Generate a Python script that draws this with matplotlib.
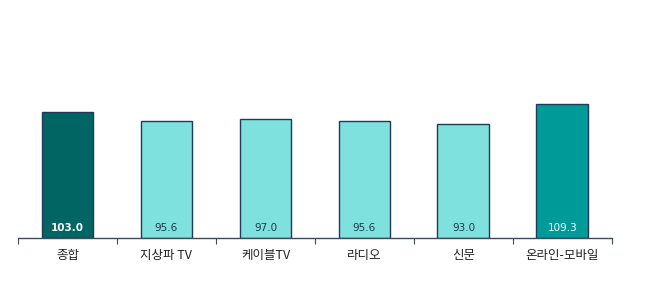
import numpy as np
import matplotlib.pyplot as plt

plt.rcParams['font.family'] = ['Noto Sans CJK KR', 'DejaVu Sans']

categories = ['종합', '지상파 TV', '케이블TV', '라디오', '신문', '온라인-모바일']
values = [103.0, 95.6, 97.0, 95.6, 93.0, 109.3]
colors = ['#006563', '#7fe1de', '#7fe1de', '#7fe1de', '#7fe1de', '#009a99']
label_colors = ['white', '#1d3a4f', '#1d3a4f', '#1d3a4f', '#1d3a4f', 'white']
label_weights = ['bold', 'normal', 'normal', 'normal', 'normal', 'normal']

fig = plt.figure(figsize=(6.5, 2.82), dpi=100)
ax = fig.add_axes([0.0277, 0.156, 0.9138, 0.783])

x = np.arange(len(categories))
ax.bar(x, values, width=0.525, color=colors, edgecolor='#1f3b57', linewidth=1.0, zorder=2)

for xi, v, c, w in zip(x, values, label_colors, label_weights):
    ax.text(xi, 4, f'{v:.1f}', ha='center', va='bottom', fontsize=7.5,
            color=c, fontweight=w, family='DejaVu Sans')

ax.set_xlim(-0.5, len(categories) - 0.5)
ax.set_ylim(0, 180)

for s in ['top', 'right', 'left']:
    ax.spines[s].set_visible(False)
ax.spines['bottom'].set_color('#3c4b5c')
ax.spines['bottom'].set_linewidth(1.0)

ax.set_yticks([])
ax.set_xticks(np.arange(-0.5, len(categories)), labels=[''] * (len(categories) + 1))
ax.tick_params(axis='x', which='major', length=4, color='#3c4b5c', direction='out')
ax.set_xticks(x, labels=categories, minor=True)
ax.tick_params(axis='x', which='minor', length=0, pad=8, labelsize=9, labelcolor='#222222')

fig.savefig('out.png', dpi=100)
